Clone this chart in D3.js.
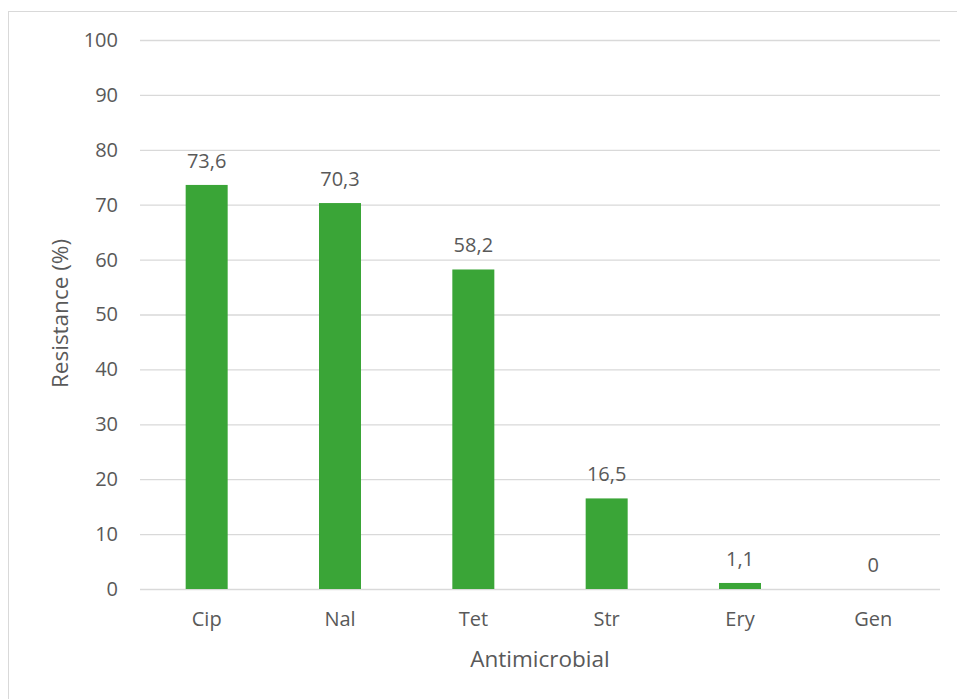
<!DOCTYPE html>
<meta charset="utf-8">
<script src="https://d3js.org/d3.v7.min.js"></script>
<style>
  body { margin: 0; background: #fff; }
  text { font-family: "Open Sans", "Noto Sans", sans-serif; fill: #595959; }
</style>
<div id="my_dataviz"></div>
<script>
// data
var categories = ["Cip", "Nal", "Tet", "Str", "Ery", "Gen"];
var resistance = [73.6, 70.3, 58.2, 16.5, 1.1, 0];
var labels = ["73,6", "70,3", "58,2", "16,5", "1,1", "0"];
var yTicks = [0, 10, 20, 30, 40, 50, 60, 70, 80, 90, 100];

var W = 957, H = 699;
var margin = {top: 40, right: 17, bottom: 110, left: 140},
    width = W - margin.left - margin.right,
    height = H - margin.top - margin.bottom;

var root = d3.select("#my_dataviz")
  .append("svg")
    .attr("width", W)
    .attr("height", H);

// outer chart frame
root.append("rect")
  .attr("x", 8.5).attr("y", 11.5)
  .attr("width", W + 10).attr("height", H + 10)
  .attr("fill", "none")
  .attr("stroke", "#d9d9d9");

var svg = root.append("g")
  .attr("transform", "translate(" + margin.left + "," + margin.top + ")");

var x = d3.scaleBand()
  .domain(categories)
  .range([0, width])
  .paddingInner(0.685)
  .paddingOuter(0.3425);

var y = d3.scaleLinear()
  .domain([0, 100])
  .range([height, 0]);

// gridlines + y labels
var yAxis = svg.append("g")
  .call(d3.axisLeft(y).tickValues(yTicks).tickSize(-width).tickPadding(22));
yAxis.select(".domain").remove();
yAxis.selectAll("line").attr("stroke", "#d9d9d9").attr("stroke-width", 1.3);
yAxis.selectAll("text").style("font-size", "20px");

// x labels
var xAxis = svg.append("g")
  .attr("transform", "translate(0," + height + ")")
  .call(d3.axisBottom(x).tickSize(0).tickPadding(23));
xAxis.select(".domain").remove();
xAxis.selectAll("text").style("font-size", "20px");

// bars
svg.selectAll(".bar")
  .data(resistance)
  .enter().append("rect")
    .attr("x", function(d, i) { return x(categories[i]); })
    .attr("y", function(d) { return y(d); })
    .attr("width", x.bandwidth())
    .attr("height", function(d) { return height - y(d); })
    .attr("fill", "#3aa537");

// value labels
svg.selectAll(".val")
  .data(resistance)
  .enter().append("text")
    .attr("x", function(d, i) { return x(categories[i]) + x.bandwidth() / 2; })
    .attr("y", function(d) { return y(d) - 17; })
    .attr("text-anchor", "middle")
    .style("font-size", "20px")
    .text(function(d, i) { return labels[i]; });

// axis titles
svg.append("text")
  .attr("x", width / 2)
  .attr("y", height + 78)
  .attr("text-anchor", "middle")
  .style("font-size", "22.5px")
  .text("Antimicrobial");

svg.append("text")
  .attr("transform", "translate(" + (-72) + "," + (height / 2 - 1) + ") rotate(-90)")
  .attr("text-anchor", "middle")
  .style("font-size", "22.5px")
  .text("Resistance (%)");
</script>
